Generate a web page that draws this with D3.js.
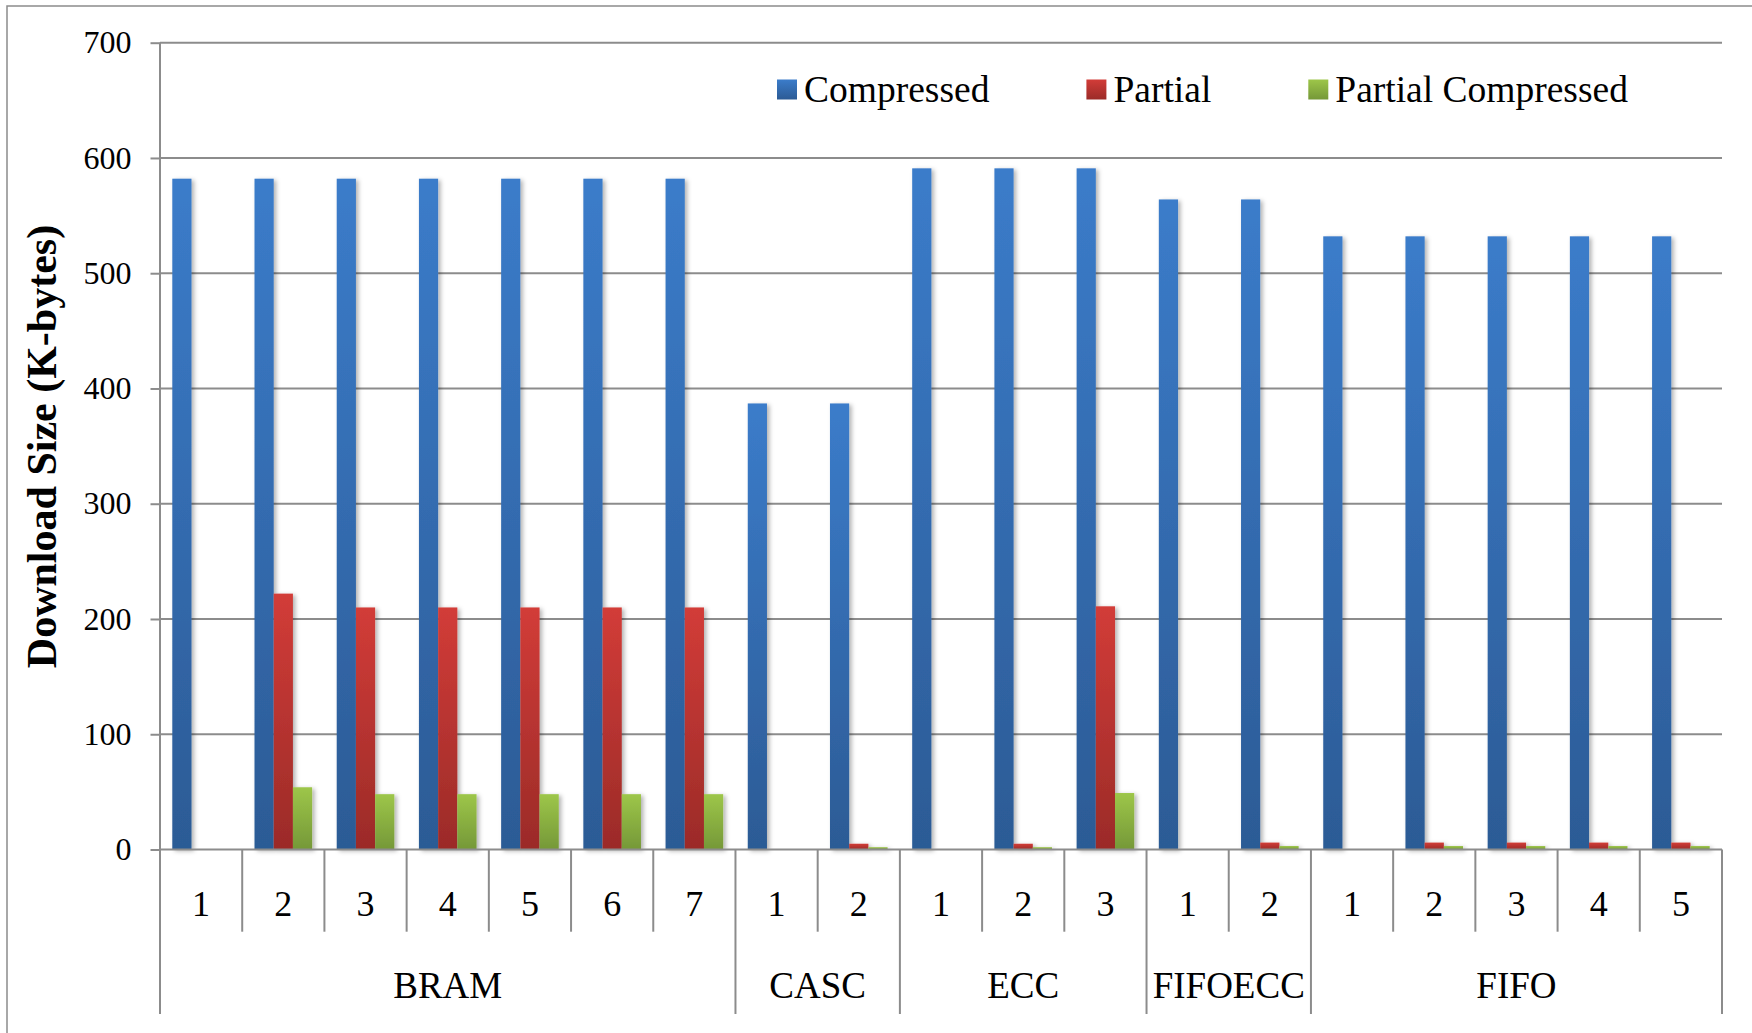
<!DOCTYPE html>
<html>
<head>
<meta charset="utf-8">
<script src="https://cdn.jsdelivr.net/npm/d3@7"></script>
<style>
  html, body { margin: 0; padding: 0; background: #fff; }
  svg { display: block; }
  text { font-family: "Liberation Serif", "Times New Roman", serif; fill: #000; }
</style>
</head>
<body>
<svg id="chart" width="1752" height="1033"></svg>
<script>
// Download sizes (K-bytes) per module configuration
const groupNames   = ["BRAM", "CASC", "ECC", "FIFOECC", "FIFO"];
const categoryGroups = ["BRAM","BRAM","BRAM","BRAM","BRAM","BRAM","BRAM",
                        "CASC","CASC",
                        "ECC","ECC","ECC",
                        "FIFOECC","FIFOECC",
                        "FIFO","FIFO","FIFO","FIFO","FIFO"];
const categoryLabels = ["1","2","3","4","5","6","7",
                        "1","2",
                        "1","2","3",
                        "1","2",
                        "1","2","3","4","5"];
const seriesNames = ["Compressed", "Partial", "Partial Compressed"];
const compressed        = [582,582,582,582,582,582,582, 387,387, 591,591,591, 564,564, 532,532,532,532,532];
const partial           = [0,222,210,210,210,210,210,   0,5,     0,5,211,     0,6,     0,6,6,6,6];
const partialCompressed = [0,54,48,48,48,48,48,         0,2,     0,2,49,      0,3,     0,3,3,3,3];
const yTicks = [0,100,200,300,400,500,600,700];

const seriesValues = [compressed, partial, partialCompressed];
const colorStops = [
  ["#3B7CCA", "#2C5B95"],
  ["#D23C38", "#9B2B28"],
  ["#9DC649", "#759838"]
];
const gridColor = "#8C8C8C";

const svg = d3.select("#chart");
const plotLeft = 160, plotRight = 1722, plotTop = 42.7, plotBase = 849.5;

const keys = categoryLabels.map((d, i) => i);
const x0 = d3.scaleBand().domain(keys).range([plotLeft, plotRight]).paddingInner(0).paddingOuter(0);
const x1 = d3.scaleBand().domain(seriesNames).range([0, x0.bandwidth()]).paddingInner(0).paddingOuter(0.64);
const y = d3.scaleLinear().domain([0, 700]).range([plotBase, plotTop]);

const defs = svg.append("defs");
seriesNames.forEach((s, i) => {
  const g = defs.append("linearGradient").attr("id", "grad" + i)
    .attr("x1", 0).attr("y1", 0).attr("x2", 0).attr("y2", 1);
  g.append("stop").attr("offset", "0%").attr("stop-color", colorStops[i][0]);
  g.append("stop").attr("offset", "100%").attr("stop-color", colorStops[i][1]);
});
const shadow = defs.append("filter").attr("id", "shadow")
  .attr("x", "-30%").attr("y", "-5%").attr("width", "180%").attr("height", "115%");
shadow.append("feDropShadow").attr("dx", 2.5).attr("dy", 1.5).attr("stdDeviation", 2)
  .attr("flood-color", "#000").attr("flood-opacity", 0.3);

// chart frame
svg.append("rect").attr("x", 7).attr("y", 6).attr("width", 1800).attr("height", 1100)
  .attr("fill", "none").attr("stroke", gridColor).attr("stroke-width", 1.5);

// horizontal gridlines
svg.append("g").selectAll("line").data(yTicks.filter(d => d > 0)).join("line")
  .attr("x1", plotLeft).attr("x2", plotRight)
  .attr("y1", d => y(d)).attr("y2", d => y(d))
  .attr("stroke", gridColor).attr("stroke-width", 2);

// y axis
const yAxis = svg.append("g").attr("transform", `translate(${plotLeft},0)`)
  .call(d3.axisLeft(y).tickValues(yTicks).tickSize(9.5).tickPadding(19));
yAxis.attr("font-family", null);
yAxis.select(".domain").remove();
yAxis.selectAll(".tick line").attr("stroke", gridColor).attr("stroke-width", 2);
yAxis.selectAll(".tick text").attr("font-size", 32).attr("fill", "#000")
  .style("font-family", '"Liberation Serif", serif');
svg.append("line").attr("x1", plotLeft).attr("x2", plotLeft).attr("y1", plotTop).attr("y2", 1014)
  .attr("stroke", gridColor).attr("stroke-width", 2);

// bars
const barLayer = svg.append("g").attr("filter", "url(#shadow)");
seriesNames.forEach((s, si) => {
  barLayer.append("g").selectAll("rect")
    .data(seriesValues[si].map((v, i) => ({ i, v })).filter(d => d.v > 0))
    .join("rect")
    .attr("x", d => x0(d.i) + x1(s))
    .attr("width", x1.bandwidth())
    .attr("y", d => y(d.v))
    .attr("height", d => y(0) - y(d.v))
    .attr("fill", `url(#grad${si})`);
});

// x axis baseline
svg.append("line").attr("x1", plotLeft).attr("x2", plotRight).attr("y1", plotBase).attr("y2", plotBase)
  .attr("stroke", gridColor).attr("stroke-width", 2);

// category dividers and labels
const catAxis = svg.append("g");
keys.forEach(i => {
  if (i > 0 && categoryGroups[i] === categoryGroups[i - 1]) {
    catAxis.append("line").attr("x1", x0(i)).attr("x2", x0(i))
      .attr("y1", plotBase).attr("y2", 931.7).attr("stroke", gridColor).attr("stroke-width", 2);
  }
  catAxis.append("text").attr("x", x0(i) + x0.bandwidth() / 2).attr("y", 916)
    .attr("text-anchor", "middle").attr("font-size", 36).text(categoryLabels[i]);
});

// group dividers and labels
const groupAxis = svg.append("g");
groupNames.forEach(gname => {
  const idx = keys.filter(i => categoryGroups[i] === gname);
  const gx0 = x0(idx[0]);
  const gx1 = x0(idx[idx.length - 1]) + x0.bandwidth();
  groupAxis.append("line").attr("x1", gx1).attr("x2", gx1)
    .attr("y1", plotBase).attr("y2", 1014).attr("stroke", gridColor).attr("stroke-width", 2);
  groupAxis.append("text").attr("x", (gx0 + gx1) / 2).attr("y", 998)
    .attr("text-anchor", "middle").attr("font-size", 37).text(gname);
});

// y axis title
svg.append("text")
  .attr("transform", `translate(56,446.5) rotate(-90)`)
  .attr("text-anchor", "middle")
  .attr("font-size", 42).attr("font-weight", "bold")
  .text("Download Size (K-bytes)");

// legend
const legend = svg.append("g");
let lx = 777;
seriesNames.forEach((s, si) => {
  legend.append("rect").attr("x", lx).attr("y", 79.5).attr("width", 20).attr("height", 20)
    .attr("fill", `url(#grad${si})`);
  const t = legend.append("text").attr("x", lx + 27).attr("y", 101.5)
    .attr("font-size", 37.5).text(s);
  lx = lx + 27 + t.node().getComputedTextLength() + 97;
});
</script>
</body>
</html>
